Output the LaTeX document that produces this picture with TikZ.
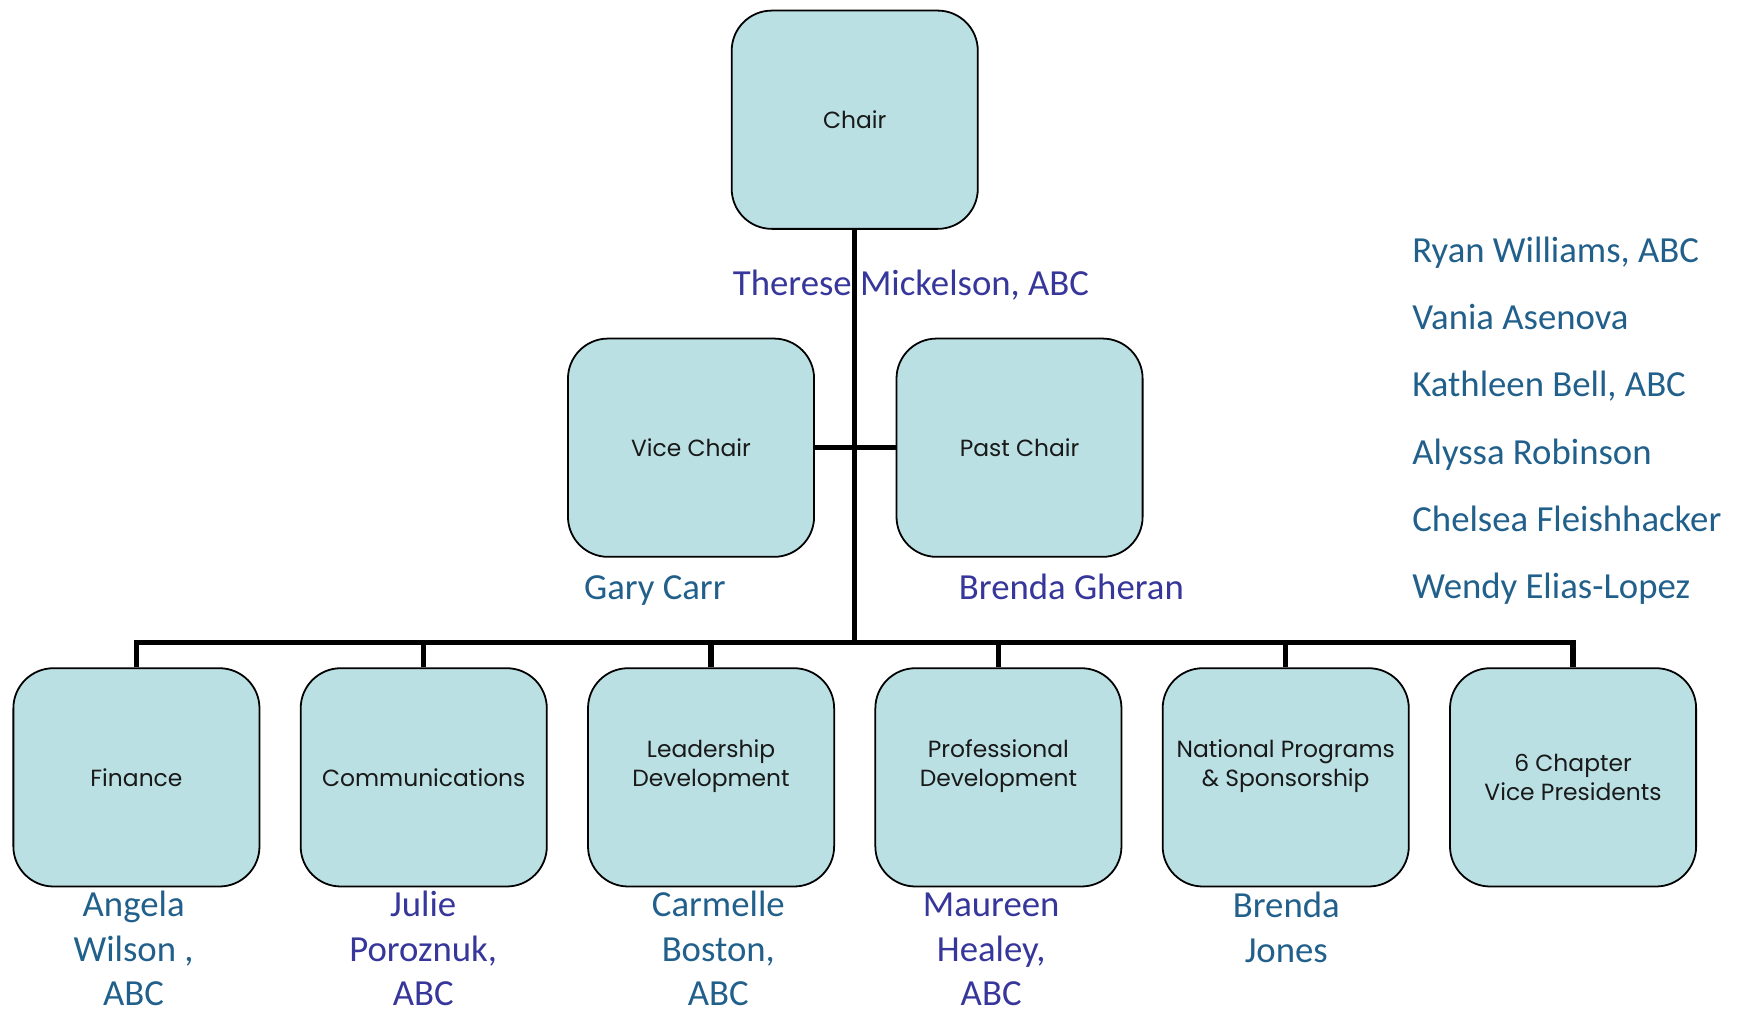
\documentclass[tikz,border=0pt]{standalone}
\usepackage{fontspec}
\setmainfont{Carlito}
\newfontfamily\boxfont{Poppins}
\usetikzlibrary{backgrounds}
\definecolor{boxfill}{HTML}{BAE0E3}
\definecolor{nameteal}{HTML}{22608C}
\definecolor{nameblue}{HTML}{36369B}
\begin{document}
\begin{tikzpicture}[x=1pt,y=-1pt,
  orgbox/.style={draw=black, line width=1.6pt, fill=boxfill, rounded corners=36pt,
    minimum width=221pt, minimum height=196pt, inner sep=0pt, align=center,
    font=\boxfont\fontsize{21}{26}\selectfont, text=black!90},
  conn/.style={line width=4.8pt, line join=miter},
  tealname/.style={text=nameteal, font=\fontsize{33}{40}\selectfont, align=center, anchor=base, inner sep=0pt},
  bluename/.style={tealname, text=nameblue},
  listname/.style={text=nameteal, font=\fontsize{33}{40}\selectfont, anchor=base west, inner sep=0pt}]
\useasboundingbox (0,0) rectangle (1566,908.7);
% boxes
\node[orgbox] (chair) at (767.5,107.5) {Chair};
\node[orgbox] (vice) at (620.5,402) {Vice Chair};
\node[orgbox] (past) at (915.5,402) {Past Chair};
\node[orgbox] (fin) at (122.5,698) {Finance};
\node[orgbox] (com) at (380.5,698) {Communications};
\node[orgbox] (lead) at (638.5,698) {Leadership\\Development\\\mbox{}};
\node[orgbox] (prof) at (896.5,698) {Professional\\Development\\\mbox{}};
\node[orgbox] (natl) at (1154.5,698) {National Programs\\\& Sponsorship\\\mbox{}};
\node[orgbox] (chap) at (1412.5,698) {6 Chapter\\Vice Presidents};
\coordinate (bus) at (767.5,577);
% connectors
\begin{scope}[on background layer]
\draw[conn] (chair.south) -- (bus);
\draw[conn] (vice.east) -- (past.west);
\draw[conn] (fin.north) |- (bus) -| (chap.north);
\draw[conn] (com.north) -- (com.north |- bus);
\draw[conn] (lead.north) -- (lead.north |- bus);
\draw[conn] (prof.north) -- (prof.north |- bus);
\draw[conn] (natl.north) -- (natl.north |- bus);
\end{scope}
% names
\node[bluename] (nchair) at (818,265) {Therese Mickelson, ABC};
\node[tealname] (nvice) at (588,538) {Gary Carr};
\node[bluename] (npast) at (962,538) {Brenda Gheran};
\node[tealname] (nfin) at (120,903) {Angela\\Wilson ,\\ABC};
\node[bluename] (ncom) at (380,903) {Julie\\Poroznuk,\\ABC};
\node[tealname] (nlead) at (645,903) {Carmelle\\Boston,\\ABC};
\node[bluename] (nprof) at (890,903) {Maureen\\Healey,\\ABC};
\node[tealname] (nnatl) at (1155,864) {Brenda\\Jones};
% right list
\node[listname] (r1) at (1268,236) {Ryan Williams, ABC};
\node[listname] (r2) at (1268,296) {Vania Asenova};
\node[listname] (r3) at (1268,356) {Kathleen Bell, ABC};
\node[listname] (r4) at (1268,417) {Alyssa Robinson};
\node[listname] (r5) at (1268,477) {Chelsea Fleishhacker};
\node[listname] (r6) at (1268,537) {Wendy Elias-Lopez};
\end{tikzpicture}
\end{document}
